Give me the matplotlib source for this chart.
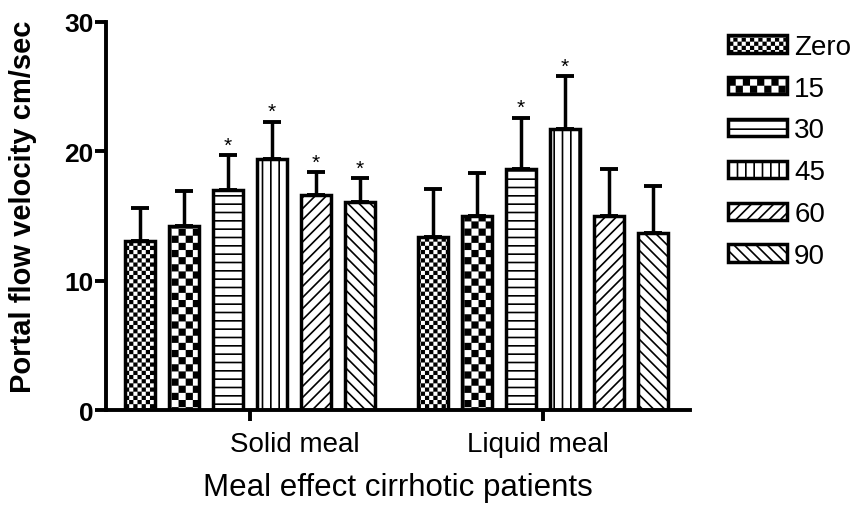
import warnings
import numpy as np
import matplotlib
matplotlib.use("Agg")
import matplotlib.pyplot as plt
import matplotlib.hatch as mhatch
from matplotlib.path import Path
from matplotlib.transforms import ScaledTranslation

warnings.filterwarnings("ignore")

# data
groups = ["Solid meal", "Liquid meal"]
times = ["Zero", "15", "30", "45", "60", "90"]
solid_mean = [13.1, 14.2, 17.0, 19.4, 16.6, 16.1]
solid_err = [2.5, 2.7, 2.7, 2.9, 1.8, 1.8]
liquid_mean = [13.4, 15.0, 18.6, 21.7, 15.0, 13.7]
liquid_err = [3.7, 3.3, 4.0, 4.1, 3.6, 3.6]
solid_star = [False, False, True, True, True, True]
liquid_star = [False, False, True, True, False, False]


# checkerboard hatch: 'c' fine, 'k' coarse (filled squares)
class CheckerHatch(mhatch.HatchPatternBase):
    def __init__(self, hatch, density):
        self.n = 24 * hatch.count('c') + 14 * hatch.count('k')
        self.num_vertices = (self.n * self.n // 2) * 5

    def set_vertices_and_codes(self, vertices, codes):
        n = self.n
        s = 1.0 / n
        inset = 0.008
        sq = np.array([[inset, inset], [s - inset, inset], [s - inset, s - inset],
                       [inset, s - inset], [inset, inset]])
        parts = [sq + [i * s, j * s] for i in range(n) for j in range(n) if (i + j) % 2 == 0]
        vertices[:] = np.concatenate(parts)
        codes[:] = np.tile([Path.MOVETO, Path.LINETO, Path.LINETO, Path.LINETO,
                            Path.CLOSEPOLY], len(parts))


mhatch._hatch_types.append(CheckerHatch)

plt.rcParams['font.family'] = ['Liberation Sans', 'DejaVu Sans']
plt.rcParams['hatch.linewidth'] = 1.2

hatches = ['c', 'k', '--', '||', '///', '\\\\\\']

fig = plt.figure(figsize=(8.61, 5.10), dpi=100)
ax = fig.add_axes([0.123, 0.194, 0.678, 0.761])

centers = np.array([0.0, 6.66])
width = 0.68
offsets = np.arange(6) - 2.5

for i, t in enumerate(times):
    xs = centers + offsets[i]
    means = [solid_mean[i], liquid_mean[i]]
    errs = [solid_err[i], liquid_err[i]]
    ax.bar(xs, means, width=width, facecolor='white', edgecolor='black',
           linewidth=2.5, hatch=hatches[i], label=t, zorder=2)
    ax.errorbar(xs, means, yerr=[np.zeros(2), errs], fmt='none', ecolor='black',
                elinewidth=2.5, capsize=6.5, capthick=2.8, zorder=1)
    for x, m, e, s in zip(xs, means, errs, [solid_star[i], liquid_star[i]]):
        if s:
            ax.text(x, m + e + 0.05, '*', ha='center', va='bottom', fontsize=15)

ax.set_xlim(-3.27, 10.0)
ax.set_ylim(0, 30)
ax.set_yticks([0, 10, 20, 30])
ax.set_xticks(centers)
ax.set_xticklabels(groups, fontsize=20)
for lbl in ax.get_yticklabels():
    lbl.set_fontweight('bold')
    lbl.set_fontsize(19)

for side in ['top', 'right']:
    ax.spines[side].set_visible(False)
for side in ['left', 'bottom']:
    ax.spines[side].set_linewidth(2.8)
ax.tick_params(width=2.8, length=8)
ax.tick_params(axis='y', pad=1)
ax.tick_params(axis='x', pad=7)

# the Prism original sets the "Solid meal" label right of its tick
shifts = [0.45, -0.05]
for lbl, dx in zip(ax.get_xticklabels(), shifts):
    lbl.set_transform(lbl.get_transform() + ScaledTranslation(dx, 0, fig.dpi_scale_trans))

ax.set_ylabel("Portal flow velocity cm/sec", fontsize=21, fontweight='bold')
ax.yaxis.set_label_coords(-0.118, 0.525)
ax.set_xlabel("Meal effect cirrhotic patients", fontsize=22.5)
ax.xaxis.set_label_coords(0.5, -0.16)

ax.legend(loc='upper left', bbox_to_anchor=(0.845, 0.932), bbox_transform=fig.transFigure,
          frameon=False, fontsize=20, handlelength=2.15, handleheight=0.58,
          labelspacing=0.57, handletextpad=0.25, borderaxespad=0, borderpad=0)

fig.savefig("out.png", dpi=100)
